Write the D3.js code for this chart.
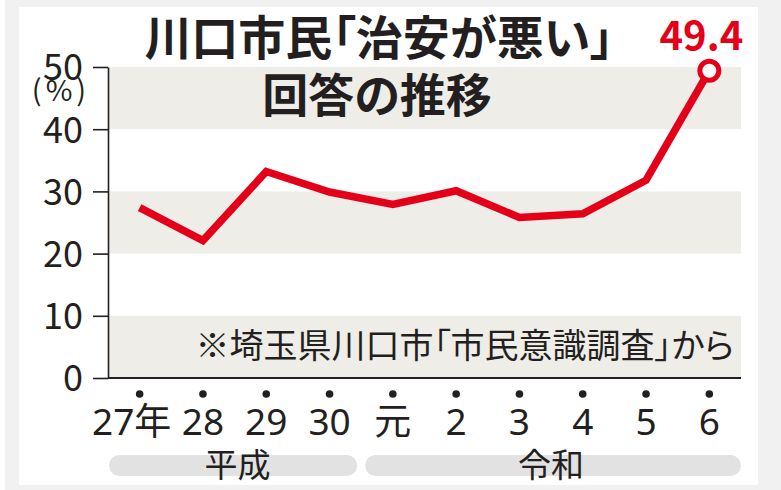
<!DOCTYPE html>
<html><head><meta charset="utf-8">
<script src="https://cdn.jsdelivr.net/npm/d3@7"></script>
<style>
html,body{margin:0;padding:0;background:#f1f1f1;}
svg{display:block;}
text{font-family:"Noto Sans CJK JP","Noto Sans",sans-serif;}
.palt{font-feature-settings:"palt";}
</style></head>
<body>
<svg id="c" width="781" height="490"></svg>
<script>
// ---- data ----
const years = ["27年","28","29","30","元","2","3","4","5","6"];
const values = [27.4, 22.1, 33.2, 29.9, 27.9, 30.1, 25.8, 26.4, 31.8, 49.4];
const yTicks = [0, 10, 20, 30, 40, 50];
const eras = [
  {name: "平成", from: "27年", to: "30"},
  {name: "令和", from: "元", to: "6"}
];
const titleLines = ["川口市民「治安が悪い」", "回答の推移"];
const unitLabel = "(%)";
const note = "※埼玉県川口市「市民意識調査」から";
const lastLabel = "49.4";

// ---- layout ----
const svg = d3.select("#c");
const L = 108, R = 741, T = 67, B = 378;
const red = "#e50019", ink = "#231f20", band = "#efede8";
const numFont = "'Noto Sans','Noto Sans CJK JP',sans-serif";

svg.append("rect").attr("x", 19).attr("y", 7).attr("width", 739).attr("height", 478).attr("fill", "#fff");
svg.append("rect").attr("x", 0).attr("y", 0).attr("width", 5).attr("height", 490).attr("fill", "#fff");

const x = d3.scalePoint().domain(years).range([L, R]).padding(0.5);
const y = d3.scaleLinear().domain([0, 50]).range([B, T]);

// bands
const bands = yTicks.slice(0, -1).filter((d, i) => i % 2 === 0).map(d => [d, d + 10]);
svg.append("g").selectAll("rect").data(bands).join("rect")
  .attr("x", L).attr("width", R - L)
  .attr("y", d => y(d[1])).attr("height", d => y(d[0]) - y(d[1]))
  .attr("fill", band);

// note
svg.append("text").attr("class", "palt").attr("x", 734).attr("y", 358).attr("text-anchor", "end")
  .attr("font-size", 34).attr("fill", ink).text(note);

// y axis
const yAxis = d3.axisLeft(y).tickValues(yTicks).tickSize(15).tickPadding(10).tickSizeOuter(0);
const gy = svg.append("g").attr("transform", `translate(${L},0)`).call(yAxis);
gy.select(".domain").attr("stroke", ink).attr("stroke-width", 1.6);
gy.selectAll(".tick line").attr("stroke", ink).attr("stroke-width", 1.6);
gy.selectAll(".tick text").attr("font-size", 36).attr("fill", ink)
  .attr("font-family", numFont).attr("dy", "0.36em");

// baseline
svg.append("line").attr("x1", L).attr("x2", R).attr("y1", y(0)).attr("y2", y(0))
  .attr("stroke", ink).attr("stroke-width", 1.8);

// unit
svg.append("text").attr("x", 61).attr("y", 101).attr("text-anchor", "middle")
  .attr("font-size", 29).attr("letter-spacing", 4).attr("font-family", numFont)
  .attr("fill", ink).text(unitLabel);

// x axis dots & labels
const gx = svg.append("g");
gx.selectAll("circle").data(years).join("circle")
  .attr("cx", d => x(d)).attr("cy", 394).attr("r", 3.8).attr("fill", ink);
gx.selectAll("text").data(years).join("text")
  .attr("x", (d, i) => x(d) - (i === 0 ? 8 : 0)).attr("y", 435)
  .attr("text-anchor", "middle").attr("font-size", 37).attr("fill", ink)
  .each(function(d) {
    const t = d3.select(this);
    const m = d.match(/^(\d+)(.*)$/);
    if (m) {
      t.append("tspan").attr("font-family", numFont).text(m[1]);
      if (m[2]) t.append("tspan").text(m[2]);
    } else t.text(d);
  });

// era bars
const half = x.step() / 2;
const ge = svg.append("g");
const ex0 = (d, i) => i === 0 ? L + 1 : x(d.from) - half + 4;
const ex1 = (d, i) => i === eras.length - 1 ? R : x(d.to) + half - 4;
ge.selectAll("rect").data(eras).join("rect")
  .attr("x", ex0).attr("width", (d, i) => ex1(d, i) - ex0(d, i))
  .attr("y", 455).attr("height", 21).attr("rx", 10.5).attr("fill", "#e2e2e2");
ge.selectAll("text").data(eras).join("text")
  .attr("x", (d, i) => (x(d.from) + x(d.to)) / 2 + (i === 0 ? 3 : 0))
  .attr("y", 477).attr("text-anchor", "middle").attr("font-size", 33).attr("fill", ink)
  .text(d => d.name);

// line
const line = d3.line().x((d, i) => x(years[i])).y(d => y(d));
svg.append("path").datum(values).attr("d", line)
  .attr("fill", "none").attr("stroke", red).attr("stroke-width", 7.5)
  .attr("stroke-linejoin", "miter").attr("stroke-linecap", "butt");

const li = values.length - 1;
svg.append("circle").attr("cx", x(years[li])).attr("cy", y(values[li])).attr("r", 9.5)
  .attr("fill", "#fff").attr("stroke", red).attr("stroke-width", 5);
svg.append("text").attr("x", x(years[li]) - 8).attr("y", 50).attr("text-anchor", "middle")
  .attr("font-size", 40).attr("font-weight", 700).attr("font-family", numFont)
  .attr("fill", red).text(lastLabel);

// title
svg.append("text").attr("class", "palt").attr("x", 379).attr("y", 55).attr("text-anchor", "middle")
  .attr("font-size", 47).attr("font-weight", 700).attr("fill", ink).text(titleLines[0]);
svg.append("text").attr("class", "palt").attr("x", 377).attr("y", 112).attr("text-anchor", "middle")
  .attr("font-size", 46).attr("font-weight", 700).attr("fill", ink).text(titleLines[1]);
</script>
</body></html>
